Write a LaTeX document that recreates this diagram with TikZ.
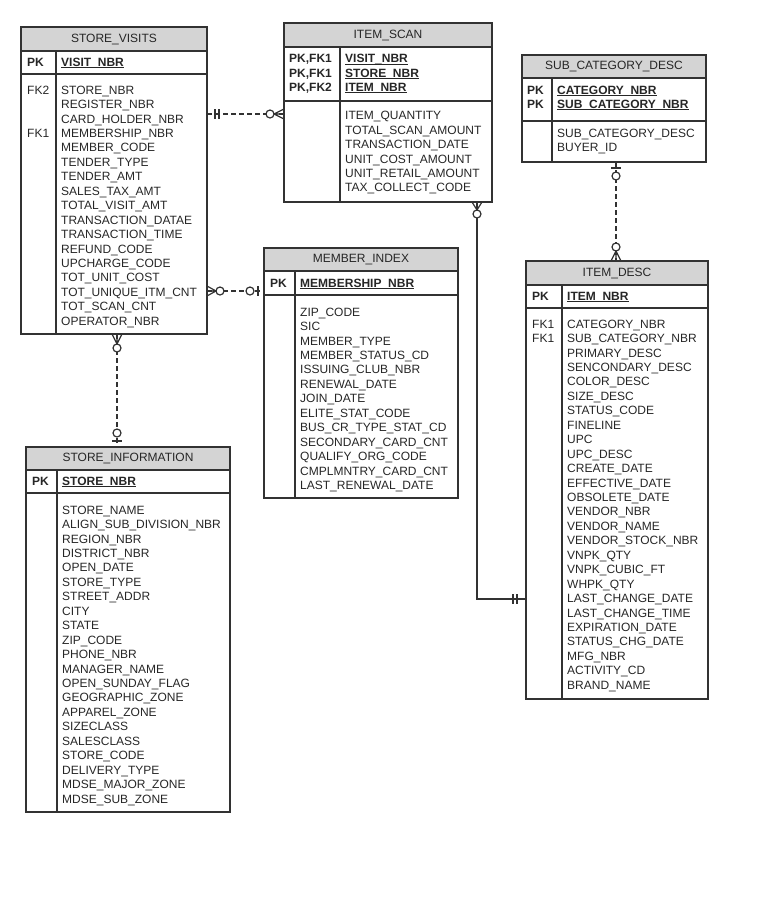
\documentclass[tikz,border=0pt]{standalone}
\usepackage{fontspec}
\setmainfont{Liberation Sans}
\definecolor{lc}{RGB}{50,50,50}
\definecolor{hdrfill}{RGB}{212,212,212}
\definecolor{tc}{RGB}{38,38,38}
\newcommand\pkf[1]{\setbox0\hbox{\bfseries #1}\copy0\llap{\rule[-1.7pt]{\wd0}{0.9pt}}}
\newcommand\flist[4]{\foreach \t [count=\i] in {#4}{\node[fld] (#1\i) at (#2,{#3+(\i-1)*14.44+4.2}) {\t};}}
\tikzset{
  tbox/.style={draw=lc, line width=1.3pt, rectangle, inner sep=0, outer sep=0, anchor=north west},
  hbox/.style={tbox, fill=hdrfill, text=tc, font=\fontsize{12}{14.44}\selectfont},
  fld/.style={anchor=base west, inner sep=0, text=tc, font=\fontsize{12}{14.44}\selectfont},
  inner/.style={draw=lc, line width=1.3pt},
  conn/.style={draw=lc, line width=1.3pt},
  dconn/.style={conn, dash pattern=on 5pt off 3pt},
  mk/.style={draw=lc, line width=1.2pt},
}
\begin{document}
\begin{tikzpicture}[x=1pt,y=-1pt]
\useasboundingbox (0,0) rectangle (780,911);

% ---------- STORE_VISITS
\node[tbox, minimum width=186, minimum height=283] (sv) at (21,51) {};
\node[hbox, minimum width=186, minimum height=24] (svh) at (21,27) {STORE\_VISITS};
\draw[inner] (sv.west |- 0,74) -- (sv.east |- 0,74);
\draw[inner] (56,51) -- (56,334);
\node[fld] (svk0) at (27,66.2) {\bfseries PK};
\node[fld] (svp0) at (61,66.2) {\pkf{VISIT\_NBR}};
\node[fld] (svk1) at (27,94.2) {FK2};
\node[fld] (svk2) at (27,137.5) {FK1};
\flist{svf}{61}{90}{STORE\_NBR,REGISTER\_NBR,CARD\_HOLDER\_NBR,MEMBERSHIP\_NBR,MEMBER\_CODE,TENDER\_TYPE,TENDER\_AMT,SALES\_TAX\_AMT,TOTAL\_VISIT\_AMT,TRANSACTION\_DATAE,TRANSACTION\_TIME,REFUND\_CODE,UPCHARGE\_CODE,TOT\_UNIT\_COST,TOT\_UNIQUE\_ITM\_CNT,TOT\_SCAN\_CNT,OPERATOR\_NBR}

% ---------- ITEM_SCAN
\node[tbox, minimum width=208, minimum height=155] (is) at (284,47) {};
\node[hbox, minimum width=208, minimum height=24] (ish) at (284,23) {ITEM\_SCAN};
\draw[inner] (is.west |- 0,101) -- (is.east |- 0,101);
\draw[inner] (340,47) -- (340,202);
\flist{isk}{289}{58.5}{\bfseries{PK,FK1},\bfseries{PK,FK1},\bfseries{PK,FK2}}
\flist{isp}{345}{58.5}{\pkf{VISIT\_NBR},\pkf{STORE\_NBR},\pkf{ITEM\_NBR}}
\flist{isf}{345}{115.5}{ITEM\_QUANTITY,TOTAL\_SCAN\_AMOUNT,TRANSACTION\_DATE,UNIT\_COST\_AMOUNT,UNIT\_RETAIL\_AMOUNT,TAX\_COLLECT\_CODE}

% ---------- SUB_CATEGORY_DESC
\node[tbox, minimum width=184, minimum height=84] (sc) at (522,78) {};
\node[hbox, minimum width=184, minimum height=23] (sch) at (522,55) {SUB\_CATEGORY\_DESC};
\draw[inner] (sc.west |- 0,121) -- (sc.east |- 0,121);
\draw[inner] (552,78) -- (552,162);
\flist{sck}{527}{90}{\bfseries PK,\bfseries PK}
\flist{scp}{557}{90}{\pkf{CATEGORY\_NBR},\pkf{SUB\_CATEGORY\_NBR}}
\flist{scf}{557}{133}{SUB\_CATEGORY\_DESC,BUYER\_ID}

% ---------- MEMBER_INDEX
\node[tbox, minimum width=194, minimum height=227] (mi) at (264,271) {};
\node[hbox, minimum width=194, minimum height=23] (mih) at (264,248) {MEMBER\_INDEX};
\draw[inner] (mi.west |- 0,295) -- (mi.east |- 0,295);
\draw[inner] (295,271) -- (295,498);
\node[fld] (mik0) at (270,287.2) {\bfseries PK};
\node[fld] (mip0) at (300,287.2) {\pkf{MEMBERSHIP\_NBR}};
\flist{mif}{300}{312}{ZIP\_CODE,SIC,MEMBER\_TYPE,MEMBER\_STATUS\_CD,ISSUING\_CLUB\_NBR,RENEWAL\_DATE,JOIN\_DATE,ELITE\_STAT\_CODE,BUS\_CR\_TYPE\_STAT\_CD,SECONDARY\_CARD\_CNT,QUALIFY\_ORG\_CODE,CMPLMNTRY\_CARD\_CNT,LAST\_RENEWAL\_DATE}

% ---------- STORE_INFORMATION
\node[tbox, minimum width=204, minimum height=342] (si) at (26,470) {};
\node[hbox, minimum width=204, minimum height=23] (sih) at (26,447) {STORE\_INFORMATION};
\draw[inner] (si.west |- 0,493) -- (si.east |- 0,493);
\draw[inner] (57,470) -- (57,812);
\node[fld] (sik0) at (32,485.2) {\bfseries PK};
\node[fld] (sip0) at (62,485.2) {\pkf{STORE\_NBR}};
\flist{sif}{62}{510}{STORE\_NAME,ALIGN\_SUB\_DIVISION\_NBR,REGION\_NBR,DISTRICT\_NBR,OPEN\_DATE,STORE\_TYPE,STREET\_ADDR,CITY,STATE,ZIP\_CODE,PHONE\_NBR,MANAGER\_NAME,OPEN\_SUNDAY\_FLAG,GEOGRAPHIC\_ZONE,APPAREL\_ZONE,SIZECLASS,SALESCLASS,STORE\_CODE,DELIVERY\_TYPE,MDSE\_MAJOR\_ZONE,MDSE\_SUB\_ZONE}

% ---------- ITEM_DESC
\node[tbox, minimum width=182, minimum height=414] (id) at (526,285) {};
\node[hbox, minimum width=182, minimum height=24] (idh) at (526,261) {ITEM\_DESC};
\draw[inner] (id.west |- 0,308) -- (id.east |- 0,308);
\draw[inner] (562,285) -- (562,699);
\node[fld] (idk0) at (532,300.2) {\bfseries PK};
\node[fld] (idp0) at (567,300.2) {\pkf{ITEM\_NBR}};
\flist{idk}{532}{324}{FK1,FK1}
\flist{idf}{567}{324}{CATEGORY\_NBR,SUB\_CATEGORY\_NBR,PRIMARY\_DESC,SENCONDARY\_DESC,COLOR\_DESC,SIZE\_DESC,STATUS\_CODE,FINELINE,UPC,UPC\_DESC,CREATE\_DATE,EFFECTIVE\_DATE,OBSOLETE\_DATE,VENDOR\_NBR,VENDOR\_NAME,VENDOR\_STOCK\_NBR,VNPK\_QTY,VNPK\_CUBIC\_FT,WHPK\_QTY,LAST\_CHANGE\_DATE,LAST\_CHANGE\_TIME,EXPIRATION\_DATE,STATUS\_CHG\_DATE,MFG\_NBR,ACTIVITY\_CD,BRAND\_NAME}

% ---------- connectors
\coordinate (c1) at (0,114);
\coordinate (c2) at (0,291);
\coordinate (c3) at (117,0);
\coordinate (c4) at (477,599);
\coordinate (c5) at (616,0);

% STORE_VISITS -> ITEM_SCAN
\draw[dconn] (sv.east |- c1) -- (is.west |- c1);
\draw[mk] (215,109) -- (215,119) (219,109) -- (219,119);
\draw[mk] (274,114) -- (284,109) (274,114) -- (284,119) (274,114) -- (284,114);
\draw[mk, fill=white] (270,114) circle (4);

% STORE_VISITS -> MEMBER_INDEX
\draw[dconn] (sv.east |- c2) -- (mi.west |- c2);
\draw[mk] (216,291) -- (207,286) (216,291) -- (207,296) (216,291) -- (207,291);
\draw[mk, fill=white] (220,291) circle (4);
\draw[mk, fill=white] (250,291) circle (4);
\draw[mk] (258,286) -- (258,296);

% STORE_VISITS -> STORE_INFORMATION
\draw[dconn] (sv.south -| c3) -- (sih.north -| c3);
\draw[mk] (117,344) -- (112,334) (117,344) -- (122,334) (117,344) -- (117,334);
\draw[mk, fill=white] (117,348) circle (4);
\draw[mk, fill=white] (117,433) circle (4);
\draw[mk] (112,441) -- (122,441);

% ITEM_SCAN -> ITEM_DESC
\draw[conn] (is.south -| c4) |- (id.west |- c4);
\draw[mk] (477,210) -- (472,202) (477,210) -- (482,202);
\draw[mk, fill=white] (477,214) circle (4);
\draw[mk] (513,594) -- (513,604) (517,594) -- (517,604);

% SUB_CATEGORY_DESC -> ITEM_DESC
\draw[dconn] (sc.south -| c5) -- (idh.north -| c5);
\draw[mk] (611,168) -- (621,168);
\draw[mk, fill=white] (616,176) circle (4);
\draw[mk, fill=white] (616,247) circle (4);
\draw[mk] (616,251) -- (611,261) (616,251) -- (621,261) (616,251) -- (616,261);
\end{tikzpicture}
\end{document}
